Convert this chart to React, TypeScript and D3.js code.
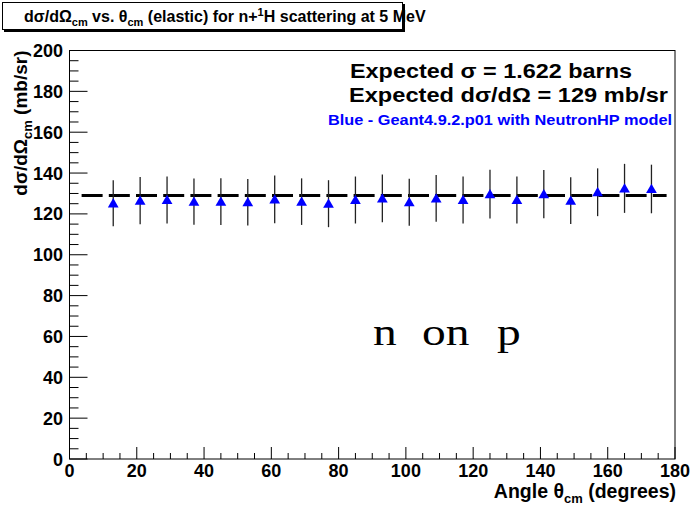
import React, { useEffect, useRef } from 'react';
import * as d3 from 'd3';

// bin centres (deg), measured d(sigma)/d(Omega) (mb/sr) and their errors
const angles = [13, 21, 29, 37, 45, 53, 61, 69, 77, 85, 93, 101, 109, 117, 125, 133, 141, 149, 157, 165, 173];
const xsec = [125.2, 126.5, 126.8, 126.0, 126.0, 125.7, 127.1, 126.0, 125.0, 126.8, 127.6, 125.7, 127.6, 126.8, 129.7, 126.8, 129.7, 126.5, 130.6, 132.5, 132.2];
const errs = [11.3, 11.6, 11.5, 11.3, 11.4, 11.4, 11.7, 11.4, 11.5, 11.5, 11.7, 11.5, 11.5, 11.5, 11.9, 11.5, 11.8, 11.5, 11.7, 12.0, 11.9];
const expected = 129;
const expectedRange = [3.6, 177.5];
const xTicks = [0, 20, 40, 60, 80, 100, 120, 140, 160, 180];
const yTicks = [0, 20, 40, 60, 80, 100, 120, 140, 160, 180, 200];

const W = 693;
const H = 507;
const FONT = '"Liberation Sans", Arial, Helvetica, sans-serif';

export default function App() {
  const ref = useRef<HTMLDivElement | null>(null);

  useEffect(() => {
    const el = ref.current;
    if (!el) return;
    while (el.firstChild) el.removeChild(el.firstChild);
    document.body.style.margin = '0';

    const frame = { left: 69.5, right: 675, top: 50.5, bottom: 459 };
    const x = d3.scaleLinear().domain([0, 180]).range([frame.left, frame.right]);
    const y = d3.scaleLinear().domain([0, 200]).range([frame.bottom, frame.top]);

    const svg = d3
      .create('svg')
      .attr('width', W)
      .attr('height', H)
      .attr('viewBox', [0, 0, W, H])
      .style('display', 'block')
      .style('background', '#fff')
      .style('font-family', FONT);

    // title pave with shadow
    svg.append('rect').attr('x', 4).attr('y', 4).attr('width', 401).attr('height', 28).attr('fill', '#000');
    svg
      .append('rect')
      .attr('x', 2.5)
      .attr('y', 2.5)
      .attr('width', 400)
      .attr('height', 27)
      .attr('fill', '#fff')
      .attr('stroke', '#000')
      .attr('stroke-width', 1);
    const title = svg
      .append('text')
      .attr('x', 24)
      .attr('y', 22)
      .attr('font-size', 16)
      .attr('font-weight', 'bold');
    title.append('tspan').text('dσ/dΩ');
    title.append('tspan').attr('font-size', 11).attr('dy', 4).text('cm');
    title.append('tspan').attr('dy', -4).text(' vs. θ');
    title.append('tspan').attr('font-size', 11).attr('dy', 4).text('cm');
    title.append('tspan').attr('dy', -4).text(' (elastic) for n+');
    title.append('tspan').attr('font-size', 11).attr('dy', -6).text('1');
    title.append('tspan').attr('dy', 6).text('H scattering at 5 MeV');

    // frame
    svg
      .append('rect')
      .attr('x', frame.left)
      .attr('y', frame.top)
      .attr('width', frame.right - frame.left)
      .attr('height', frame.bottom - frame.top)
      .attr('fill', 'none')
      .attr('stroke', '#000')
      .attr('stroke-width', 1);

    // x ticks: major every 20, minor every 5
    const xMinor = d3.range(0, 181, 5);
    svg
      .append('g')
      .selectAll('line')
      .data(xMinor)
      .join('line')
      .attr('x1', (d) => x(d))
      .attr('x2', (d) => x(d))
      .attr('y1', frame.bottom)
      .attr('y2', (d) => frame.bottom - (d % 20 === 0 ? 12 : 6))
      .attr('stroke', '#000');
    svg
      .append('g')
      .selectAll('text')
      .data(xTicks)
      .join('text')
      .attr('x', (d) => x(d))
      .attr('y', 477)
      .attr('text-anchor', 'middle')
      .attr('font-size', 18)
      .attr('font-weight', 'bold')
      .text((d) => d);

    // y ticks
    const yMinor = d3.range(0, 201, 5);
    svg
      .append('g')
      .selectAll('line')
      .data(yMinor)
      .join('line')
      .attr('y1', (d) => y(d))
      .attr('y2', (d) => y(d))
      .attr('x1', frame.left)
      .attr('x2', (d) => frame.left + (d % 20 === 0 ? 18 : 9))
      .attr('stroke', '#000');
    svg
      .append('g')
      .selectAll('text')
      .data(yTicks)
      .join('text')
      .attr('x', 63)
      .attr('y', (d) => y(d) + 6.5)
      .attr('text-anchor', 'end')
      .attr('font-size', 18)
      .attr('font-weight', 'bold')
      .text((d) => d);

    // axis titles
    const xt = svg
      .append('text')
      .attr('x', 676)
      .attr('y', 498)
      .attr('text-anchor', 'end')
      .attr('font-size', 19.5)
      .attr('font-weight', 'bold');
    xt.append('tspan').text('Angle θ');
    xt.append('tspan').attr('font-size', 13).attr('dy', 5).text('cm');
    xt.append('tspan').attr('dy', -5).text(' (degrees)');

    const yt = svg
      .append('text')
      .attr('transform', `translate(27,${frame.top}) rotate(-90)`)
      .attr('text-anchor', 'end')
      .attr('font-size', 19)
      .attr('font-weight', 'bold');
    yt.append('tspan').text('dσ/dΩ');
    yt.append('tspan').attr('font-size', 13).attr('dy', 5).text('cm');
    yt.append('tspan').attr('dy', -5).text(' (mb/sr)');

    // expected value line
    svg
      .append('line')
      .attr('x1', x(expectedRange[0]))
      .attr('x2', x(expectedRange[1]))
      .attr('y1', y(expected))
      .attr('y2', y(expected))
      .attr('stroke', '#000')
      .attr('stroke-width', 3)
      .attr('stroke-dasharray', '21 6.2');

    // data: error bars then triangles
    const pts = angles.map((a, i) => ({ a, v: xsec[i], e: errs[i] }));
    svg
      .append('g')
      .selectAll('line')
      .data(pts)
      .join('line')
      .attr('x1', (d) => x(d.a))
      .attr('x2', (d) => x(d.a))
      .attr('y1', (d) => y(d.v - d.e))
      .attr('y2', (d) => y(d.v + d.e))
      .attr('stroke', '#222')
      .attr('stroke-width', 1.3);
    const tri = d3.symbol().type(d3.symbolTriangle).size(50);
    svg
      .append('g')
      .selectAll('path')
      .data(pts)
      .join('path')
      .attr('transform', (d) => `translate(${x(d.a)},${y(d.v) + 1})`)
      .attr('d', tri)
      .attr('fill', '#0000ff');

    // legend text, stretched to the widths seen in the reference
    svg
      .append('text')
      .attr('x', 350)
      .attr('y', 78)
      .attr('font-size', 20)
      .attr('font-weight', 'bold')
      .attr('textLength', 282)
      .attr('lengthAdjust', 'spacingAndGlyphs')
      .text('Expected σ = 1.622 barns');
    svg
      .append('text')
      .attr('x', 349)
      .attr('y', 102)
      .attr('font-size', 20)
      .attr('font-weight', 'bold')
      .attr('textLength', 319)
      .attr('lengthAdjust', 'spacingAndGlyphs')
      .text('Expected dσ/dΩ = 129 mb/sr');
    svg
      .append('text')
      .attr('x', 328)
      .attr('y', 125)
      .attr('font-size', 14)
      .attr('font-weight', 'bold')
      .attr('fill', '#0000ff')
      .attr('textLength', 344)
      .attr('lengthAdjust', 'spacingAndGlyphs')
      .text('Blue - Geant4.9.2.p01 with NeutronHP model');

    // annotation
    const np = svg
      .append('text')
      .attr('transform', 'translate(373,345) scale(1.25,1)')
      .attr('font-size', 38)
      .attr('font-family', '"Liberation Serif", "Times New Roman", serif');
    np.append('tspan').attr('x', 0).text('n');
    np.append('tspan').attr('x', (422 - 373) / 1.25).text('on');
    np.append('tspan').attr('x', (497 - 373) / 1.25).text('p');

    el.appendChild(svg.node() as SVGSVGElement);
  }, []);

  return <div ref={ref} style={{ width: W, height: H }} />;
}
